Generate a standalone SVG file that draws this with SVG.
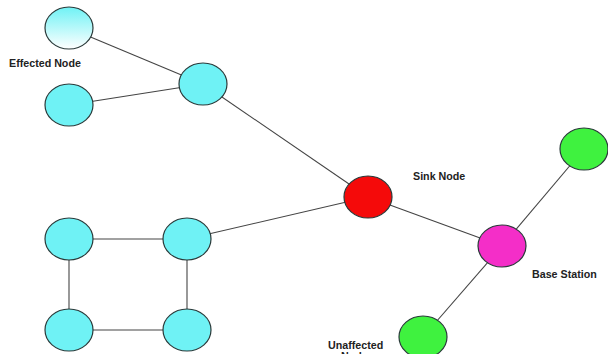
<svg xmlns="http://www.w3.org/2000/svg" width="608" height="354" viewBox="0 0 608 354">
<style>
.n{stroke:#2a3a3a;stroke-width:1.2}
.c{fill:#6ff2f5}
.e{stroke:#444;stroke-width:1.1;fill:none}
text{font-family:"Liberation Sans",Arial,sans-serif;font-weight:bold;font-size:10.7px;fill:#222}
</style>
<defs>
<linearGradient id="g1" x1="0" y1="0" x2="0" y2="1">
<stop offset="0" stop-color="#6ff2f5"/>
<stop offset="1" stop-color="#ffffff"/>
</linearGradient>
</defs>
<rect width="608" height="354" fill="#fff"/>
<g id="connectors">
<line class="e" x1="69" y1="28" x2="203" y2="84"/>
<line class="e" x1="69" y1="105" x2="203" y2="84"/>
<line class="e" x1="203" y1="84" x2="368" y2="197"/>
<line class="e" x1="187" y1="239" x2="368" y2="197"/>
<line class="e" x1="368" y1="197" x2="502" y2="246"/>
<line class="e" x1="502" y1="246" x2="584" y2="149"/>
<line class="e" x1="502" y1="246" x2="423" y2="337"/>
<line class="e" x1="69" y1="239" x2="187" y2="239"/>
<line class="e" x1="69" y1="330" x2="187" y2="330"/>
<line class="e" x1="69" y1="239" x2="69" y2="330"/>
<line class="e" x1="187" y1="239" x2="187" y2="330"/>
</g>
<g id="effected1"><ellipse class="n" cx="69" cy="28" rx="24" ry="21" fill="url(#g1)"/></g>
<g id="effected2"><ellipse class="n c" cx="69" cy="105" rx="24" ry="21"/></g>
<g id="hub"><ellipse class="n c" cx="203" cy="84" rx="24" ry="21"/></g>
<g id="sq1"><ellipse class="n c" cx="69" cy="239" rx="24" ry="21"/></g>
<g id="sq2"><ellipse class="n c" cx="187" cy="239" rx="24" ry="21"/></g>
<g id="sq3"><ellipse class="n c" cx="69" cy="330" rx="24" ry="21"/></g>
<g id="sq4"><ellipse class="n c" cx="187" cy="330" rx="24" ry="21"/></g>
<g id="sink"><ellipse class="n" cx="368" cy="197" rx="24" ry="21" fill="#f50a0a"/></g>
<g id="base"><ellipse class="n" cx="502" cy="246" rx="24" ry="21" fill="#f42ec8"/></g>
<g id="green1"><ellipse class="n" cx="584" cy="149" rx="24" ry="21" fill="#3ff23f"/></g>
<g id="green2"><ellipse class="n" cx="423" cy="337" rx="24" ry="21" fill="#3ff23f"/></g>
<g id="labels">
<text x="9" y="67">Effected Node</text>
<text x="413" y="180">Sink Node</text>
<text x="532" y="278">Base Station</text>
<text x="328" y="349">Unaffected</text>
<text x="341" y="360">Node</text>
</g>
</svg>
